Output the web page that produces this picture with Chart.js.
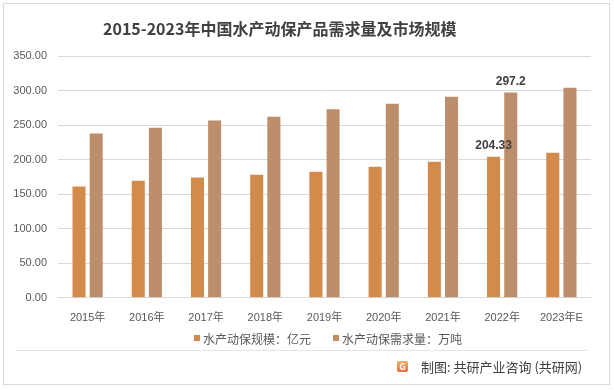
<!DOCTYPE html>
<html lang="zh">
<head>
    <meta charset="UTF-8">
    <title>2015-2023年中国水产动保产品需求量及市场规模</title>
    <script src="https://cdn.jsdelivr.net/npm/chart.js"></script>
    <style>
        body {
            margin: 0;
            background: #fff;
            font-family: "Noto Sans CJK SC", "Noto Sans", sans-serif;
        }
        .frame {
            position: relative;
            width: 614px;
            height: 390px;
            overflow: hidden;
        }
        .border {
            position: absolute;
            left: 3px;
            top: 3px;
            width: 605px;
            height: 380px;
            border: 1px solid #d9d9d9;
        }
        #chart {
            position: absolute;
            left: 0;
            top: 0;
        }
        .title {
            position: absolute;
            left: 103px;
            top: 16px;
            font-size: 16px;
            font-weight: bold;
            color: #404040;
            white-space: nowrap;
            line-height: 24px;
        }
        .legend {
            position: absolute;
            left: 194px;
            top: 330px;
            height: 16px;
            display: flex;
            align-items: center;
            font-size: 12px;
            color: #595959;
            white-space: nowrap;
        }
        .legend .item {
            display: flex;
            align-items: center;
            margin-right: 22px;
        }
        .legend .box {
            width: 6px;
            height: 6px;
            margin-right: 3px;
        }
        .footer-line {
            position: absolute;
            left: 16px;
            top: 350px;
            width: 571px;
            height: 1px;
            background: #e3e3e3;
        }
        .footer {
            position: absolute;
            left: 397px;
            top: 357px;
            font-size: 13px;
            color: #404040;
            white-space: nowrap;
            display: flex;
            align-items: center;
        }
        .logo {
            width: 11px;
            height: 11px;
            margin-right: 13px;
            border-radius: 2px;
            background: linear-gradient(180deg, #f7b15a, #ec6d3c);
            color: #fff;
            font-size: 9px;
            font-weight: bold;
            line-height: 11px;
            text-align: center;
        }
    </style>
</head>
<body>
    <div class="frame">
        <canvas id="chart" width="614" height="390"></canvas>
        <div class="border"></div>
        <div class="title">2015-2023年中国水产动保产品需求量及市场规模</div>
        <div class="legend" id="legend"></div>
        <div class="footer-line"></div>
        <div class="footer"><div class="logo">G</div>制图: 共研产业咨询 (共研网)</div>
    </div>

    <script>
        // data
        const years = ['2015年', '2016年', '2017年', '2018年', '2019年', '2020年', '2021年', '2022年', '2023年E'];
        const marketSize = [161, 169.6, 174, 178, 182.6, 189.8, 197, 204.33, 210];   // 亿元
        const demand = [237.7, 246, 256.5, 262, 273, 281, 291, 297.2, 304];         // 万吨
        const seriesNames = ['水产动保规模：亿元', '水产动保需求量：万吨'];
        const seriesColors = ['#D38B4C', '#BC8E6C'];
        const yMin = 0;
        const yMax = 350;
        const yStep = 50;
        const labelYear = '2022年';   // only this year carries value labels

        const textColor = '#595959';

        // value labels above the bars of one category
        const valueLabels = {
            id: 'valueLabels',
            afterDatasetsDraw(chart) {
                const idx = years.indexOf(labelYear);
                const ctx = chart.ctx;
                ctx.save();
                ctx.font = 'bold 12px "Liberation Sans", sans-serif';
                ctx.fillStyle = '#404040';
                ctx.textAlign = 'center';
                ctx.textBaseline = 'bottom';
                chart.data.datasets.forEach((ds, i) => {
                    const bar = chart.getDatasetMeta(i).data[idx];
                    ctx.fillText(String(ds.data[idx]), bar.x, bar.y - 5);
                });
                ctx.restore();
            }
        };

        const chart = new Chart(document.getElementById('chart'), {
            type: 'bar',
            data: {
                labels: years,
                datasets: [
                    { label: seriesNames[0], data: marketSize, backgroundColor: seriesColors[0] },
                    { label: seriesNames[1], data: demand, backgroundColor: seriesColors[1] }
                ]
            },
            options: {
                responsive: false,
                animation: false,
                devicePixelRatio: 1,
                layout: {
                    padding: { top: 56, left: 8, right: 23, bottom: 51 }
                },
                datasets: {
                    bar: {
                        categoryPercentage: 0.58,
                        barPercentage: 0.76
                    }
                },
                plugins: {
                    title: { display: false },
                    tooltip: { enabled: false },
                    legend: { display: false }
                },
                scales: {
                    x: {
                        grid: { display: false, drawTicks: false },
                        border: { color: '#d9d9d9' },
                        ticks: {
                            padding: 14,
                            color: textColor,
                            maxRotation: 0,
                            font: { size: 11, family: '"Liberation Sans", "Noto Sans CJK SC", sans-serif' }
                        }
                    },
                    y: {
                        min: yMin,
                        max: yMax,
                        afterFit(scale) { scale.width = 50; },
                        grid: { color: '#d9d9d9', drawTicks: false },
                        border: { display: false },
                        ticks: {
                            stepSize: yStep,
                            padding: 11,
                            color: textColor,
                            font: { size: 11, family: '"Liberation Sans", sans-serif' },
                            callback: v => v.toFixed(2)
                        }
                    }
                }
            },
            plugins: [valueLabels]
        });

        // legend built from the chart's datasets
        const legendEl = document.getElementById('legend');
        chart.data.datasets.forEach(ds => {
            const item = document.createElement('div');
            item.className = 'item';
            const box = document.createElement('div');
            box.className = 'box';
            box.style.background = ds.backgroundColor;
            item.appendChild(box);
            item.appendChild(document.createTextNode(ds.label));
            legendEl.appendChild(item);
        });
    </script>
</body>
</html>
